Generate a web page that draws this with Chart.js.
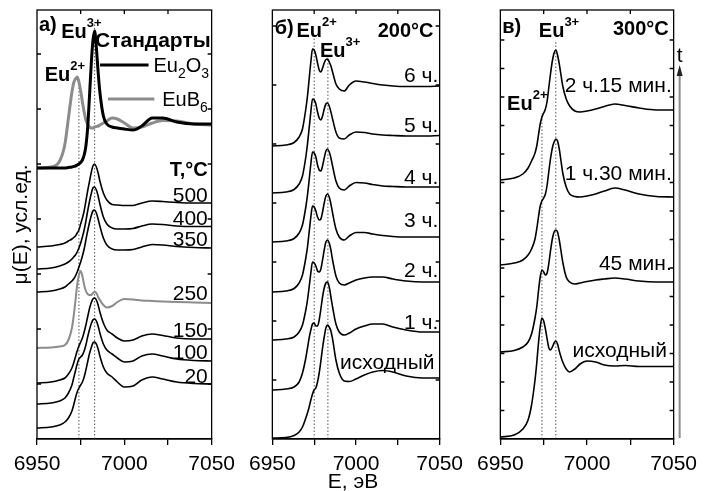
<!DOCTYPE html>
<html>
<head>
<meta charset="utf-8">
<script src="https://cdn.jsdelivr.net/npm/chart.js@4.4.1/dist/chart.umd.min.js"></script>
<style>
body { margin: 0; background: #fff; }
#wrap { position: relative; width: 704px; height: 491px; }
canvas { position: absolute; top: 0; }
</style>
</head>
<body>
<div id="wrap">
  <canvas id="chartA" width="242" height="491" style="left:0px"></canvas>
  <canvas id="chartB" width="228" height="491" style="left:242px"></canvas>
  <canvas id="chartC" width="234" height="491" style="left:470px"></canvas>
</div>
<script>
// photon energy, eV (shared grid for all spectra)
const energy = [6950, 6958, 6963, 6966, 6968, 6970, 6971, 6972, 6973, 6974, 6975, 6976, 6977, 6978, 6979, 6980, 6981, 6982, 6983, 6984, 6985, 6986, 6988, 6990, 6993, 6996, 7000, 7005, 7010, 7016, 7022, 7030, 7040, 7050];

// panel a) standards and annealing temperatures (mu above pre-edge, arb. units)
const eu2o3 = [0, 0, 0, 0, 0.5, 1, 1.5, 2, 3, 4, 5.5, 8, 13, 22, 40, 70, 102, 127, 137, 120, 96, 76, 52, 44, 41, 40, 39, 38, 42, 50, 50, 46, 44, 44];
const eub6  = [0, 1, 7, 24, 50, 76, 85, 89, 91, 86, 77, 66, 56, 48, 44, 41, 40, 40, 41, 41.5, 42, 43, 45, 47, 50, 49, 45, 40, 41, 45, 47.5, 47, 44, 43];
const t500 = [0, 1, 2.5, 4, 6, 8, 9.5, 11, 14, 17, 23, 29, 36, 46, 56, 65, 74, 81, 83, 80, 74, 66, 54, 47, 42.5, 42, 41.5, 41.5, 44, 46, 45.5, 44.5, 44, 44];
const t400 = [0, 1, 3, 5, 7, 10, 12, 14, 17, 21, 26, 32, 39, 48, 58, 67, 75, 81, 82, 79, 73, 65, 52, 45, 41, 40, 40, 40.5, 43, 45, 44.5, 43, 42.5, 42.5];
const t350 = [0, 1, 3, 5, 8, 11, 13, 16, 20, 25, 30, 36, 43, 52, 61, 69, 76, 81, 82, 79, 73, 66, 54, 47, 43, 42, 42, 42.5, 45, 47.5, 47, 45.5, 44.5, 44];
const t250 = [0, 0.5, 1.5, 3, 8, 20, 32, 47, 63, 73, 77, 72, 63, 57, 54, 53, 53, 55, 56, 55, 51, 48, 43, 40.5, 42, 46, 49, 48.5, 47.5, 47, 46.5, 46, 45.5, 45];
const t150 = [0, 1, 3, 5, 9, 15, 20, 26, 32, 37, 41, 45, 51, 58, 66, 74, 80, 84, 85, 83, 78, 71, 60, 53, 49, 45, 42, 43, 47, 49, 47.5, 45, 44, 44];
const t100 = [0, 1, 3, 6, 11, 19, 26, 33, 40, 45, 47, 49, 53, 59, 67, 74, 80, 84, 85, 83, 78, 71, 60, 54, 50, 46, 42, 43, 48, 50, 48, 45, 43.5, 43];
const t20  = [0, 1, 3, 6, 10, 17, 23, 30, 36, 40, 43, 46, 51, 58, 66, 74, 80, 85, 86, 84, 79, 72, 61, 55, 51, 46, 41, 42, 48, 51, 49, 46, 44.5, 44];
const offsetsA = [271, 271, 192, 170, 147, 91, 56, 35, 11];

// panel б) 200 C, time series
const b6h = [0, 1, 3.5, 9, 17, 37, 50, 67, 84, 97, 96, 91, 83, 76, 74, 78, 83, 86.5, 87, 84, 80, 74, 62, 57, 55, 61, 65, 64, 62.5, 61, 60, 59.5, 59.5, 60];
const b5h = [0, 1, 3.5, 9, 17, 36, 49, 65, 81, 94, 93, 89, 81, 75, 73, 77, 84, 89, 90, 87, 81, 74, 61, 55, 54, 58, 61, 60.5, 59, 58, 57.5, 57, 57, 57.5];
const b4h = [0, 1, 3.5, 9, 17, 35, 47, 62, 78, 90, 89, 85, 77, 72, 71, 76, 84, 91, 93, 90, 84, 76, 61, 54, 52, 56, 59.5, 59, 57.5, 56, 55.5, 55, 55, 55];
const b3h = [0, 1, 3.5, 9, 17, 34, 45, 60, 75, 86, 85, 81, 75, 72, 73, 80, 89, 96, 98, 95, 88, 79, 63, 55, 52, 56, 59.5, 59.5, 58, 56.5, 55.5, 55, 55, 55];
const b2h = [0, 1, 3, 8, 15, 30, 40, 53, 67, 78, 77, 74, 69, 68, 71, 80, 90, 98, 100, 97, 90, 80, 64, 57, 55, 57, 60, 62, 63, 63, 61, 59, 58, 58];
const b1h = [0, 1, 3, 8, 17, 32, 42, 52, 60, 66, 67, 64, 64, 70, 81, 93, 102, 107, 108, 103, 93, 83, 66, 58, 55, 57, 61, 64, 66, 66, 63, 60, 58, 58];
const b0h = [0, 0.5, 2.5, 6, 11, 20, 25, 31, 38, 44, 48, 50, 56, 65, 77, 90, 101, 110, 113, 111, 107, 99, 78, 65, 57, 56.5, 59, 63, 66, 67.5, 66, 62, 60, 60];
const offsetsB = [293, 246, 197, 147, 99, 49, 1];

// panel в) 300 C, time series
const c135 = [0, 2, 6, 12, 19, 27, 34, 45, 56, 63, 67, 71, 79, 93, 107, 119, 127, 130, 125, 116, 105, 94, 81, 74, 69, 68, 69, 71, 73.5, 76, 74.5, 72, 70, 70];
const c90  = [0, 2, 5, 10, 16, 26, 36, 48, 59, 64, 67, 71, 80, 94, 107, 117, 123, 126, 124, 116, 104, 92, 78, 71, 68.5, 68, 69, 71, 74, 77, 75, 71, 68.5, 68];
const c45  = [0, 1.5, 5, 10, 18, 34, 45, 61, 75, 82, 80, 77, 79, 89, 102, 113, 120, 122, 120, 112, 101, 90, 75, 70, 68, 69, 70.5, 72, 73, 74, 73, 71, 70, 70];
const c0   = [0, 2, 8, 17, 32, 57, 74, 94, 110, 119, 116, 108, 98, 89, 87, 90, 94, 96, 93, 86, 80, 75, 68, 65, 68, 73, 76, 75, 72, 71, 71.5, 70.5, 70.5, 70.5];
const offsetsC = [259, 174, 87, 2];

// Eu2+ / Eu3+ guide lines: energy and top of each dotted line
const guidesA = [[6974, 356], [6983, 417]];
const guidesB = [[6975, 402], [6983.2, 382]];
const guidesC = [[6974, 326], [6982, 399]];

const FONT = '"Liberation Sans", Arial, sans-serif';
const GRAY = '#8c8c8c';

const N = t => [t, 21, false, 0];
const L = t => [t, 20, false, 0];
const B = t => [t, 20, true, 0];
const SUP = t => [t, 13, true, -11];
const SUB = t => [t, 14, false, 6];

function drawRich(ctx, parts, x, y, align) {
    let w = 0;
    parts.forEach(p => {
        ctx.font = (p[2] ? 'bold ' : '') + p[1] + 'px ' + FONT;
        p.w = ctx.measureText(p[0]).width;
        w += p.w;
    });
    let cx = align === 'right' ? x - w : x;
    parts.forEach(p => {
        ctx.font = (p[2] ? 'bold ' : '') + p[1] + 'px ' + FONT;
        ctx.fillText(p[0], cx, y + p[3]);
        cx += p.w;
    });
}

const deco = {
    id: 'deco',
    afterDatasetsDraw(chart, args, o) {
        const ctx = chart.ctx;
        const a = chart.chartArea;
        const x = chart.scales.x, y = chart.scales.y;
        ctx.save();
        // frame + inward ticks
        ctx.strokeStyle = '#000';
        ctx.lineWidth = 1.3;
        ctx.strokeRect(a.left, a.top, a.right - a.left, a.bottom - a.top);
        ctx.beginPath();
        [6975, 7000, 7025].forEach(v => {
            const px = x.getPixelForValue(v);
            ctx.moveTo(px, a.top); ctx.lineTo(px, a.top + 4);
        });
        for (let v = o.yStep; v < 425; v += o.yStep) {
            const py = y.getPixelForValue(v);
            ctx.moveTo(a.left, py); ctx.lineTo(a.left + 4, py);
            ctx.moveTo(a.right, py); ctx.lineTo(a.right - 4, py);
        }
        ctx.stroke();

        // legend samples
        (o.keys || []).forEach(k => {
            ctx.strokeStyle = k.color;
            ctx.lineWidth = 3;
            ctx.beginPath();
            ctx.moveTo(x.getPixelForValue(k.x0), y.getPixelForValue(k.y));
            ctx.lineTo(x.getPixelForValue(k.x1), y.getPixelForValue(k.y));
            ctx.stroke();
        });

        ctx.fillStyle = '#000';
        ctx.textBaseline = 'alphabetic';
        o.labels.forEach(l => drawRich(ctx, l.p, x.getPixelForValue(l.x), y.getPixelForValue(l.y), l.al));

        // axis titles
        ctx.font = '21px ' + FONT;
        ctx.textAlign = 'center';
        if (o.yTitle) {
            ctx.save();
            ctx.translate(20, (a.top + a.bottom) / 2);
            ctx.rotate(-Math.PI / 2);
            ctx.fillText(o.yTitle, 0, 7);
            ctx.restore();
        }
        if (o.xTitle) {
            ctx.fillText(o.xTitle, (a.left + a.right) / 2 - 3, 488);
        }

        // time arrow
        if (o.arrow) {
            const ax = a.right + 6;
            ctx.strokeStyle = GRAY;
            ctx.lineWidth = 2;
            ctx.beginPath();
            ctx.moveTo(ax, a.bottom - 1); ctx.lineTo(ax, a.top + 64);
            ctx.stroke();
            ctx.fillStyle = '#222';
            ctx.beginPath();
            ctx.moveTo(ax, a.top + 55); ctx.lineTo(ax - 3, a.top + 66); ctx.lineTo(ax + 3, a.top + 66);
            ctx.closePath(); ctx.fill();
            ctx.fillStyle = '#000';
            ctx.fillText('t', ax, a.top + 52);
        }
        ctx.restore();
    }
};

function curve(vals, off, color, width) {
    return {
        data: energy.map((e, i) => ({ x: e, y: vals[i] + off })),
        borderColor: color,
        borderWidth: width,
        pointRadius: 0,
        fill: false,
        cubicInterpolationMode: 'monotone'
    };
}

function guide(g) {
    return {
        data: [{ x: g[0], y: 0 }, { x: g[0], y: g[1] }],
        borderColor: '#555',
        borderWidth: 1,
        borderDash: [1.5, 2],
        pointRadius: 0,
        tension: 0
    };
}

function makeChart(id, datasets, padL, padR, deco_opts) {
    return new Chart(document.getElementById(id).getContext('2d'), {
        type: 'line',
        data: { datasets: datasets },
        options: {
            responsive: false,
            animation: false,
            devicePixelRatio: 1,
            layout: { padding: { left: padL, right: padR, top: 10, bottom: 0 } },
            plugins: {
                legend: { display: false },
                tooltip: { enabled: false },
                deco: deco_opts
            },
            scales: {
                x: {
                    type: 'linear',
                    min: 6950,
                    max: 7050,
                    afterFit: s => { s.height = 52; },
                    ticks: {
                        stepSize: 25,
                        autoSkip: false,
                        maxRotation: 0,
                        padding: 7,
                        color: '#000',
                        font: { family: FONT, size: 21 },
                        callback: v => (v % 50 === 0 ? String(v) : '')
                    },
                    grid: { drawOnChartArea: false, tickLength: 6, color: '#000', lineWidth: 1.3 },
                    border: { color: '#000', width: 1.3 }
                },
                y: { display: false, min: 0, max: 429 }
            }
        },
        plugins: [deco]
    });
}

// panel a
const seriesA = [eu2o3, eub6, t500, t400, t350, t250, t150, t100, t20];
const colorsA = ['#000', GRAY, '#000', '#000', '#000', GRAY, '#000', '#000', '#000'];
const dsA = seriesA.map((s, i) => curve(s, offsetsA[i], colorsA[i], i < 2 ? 3 : (i === 5 ? 2 : 1.6)));
guidesA.forEach(g => dsA.push(guide(g)));
makeChart('chartA', dsA, 37, 25, {
    yStep: 55,
    yTitle: 'μ(E), усл.ед.',
    keys: [
        { x0: 6986.1, x1: 7013.9, y: 374, color: '#000' },
        { x0: 6990.6, x1: 7017.2, y: 340, color: GRAY }
    ],
    labels: [
        { p: [B('а)')], x: 6951.1, y: 408 },
        { p: [B('Eu'), SUP('3+')], x: 6963.9, y: 401 },
        { p: [['Стандарты', 21, true, 0]], x: 7049.4, y: 392, al: 'right' },
        { p: [L('Eu'), SUB('2'), L('O'), SUB('3')], x: 7016.7, y: 367 },
        { p: [L('EuB'), SUB('6')], x: 7021.7, y: 333 },
        { p: [B('Eu'), SUP('2+')], x: 6954.4, y: 358 },
        { p: [B('T,°C')], x: 7047.8, y: 263, al: 'right' },
        { p: [N('500')], x: 7047.8, y: 237, al: 'right' },
        { p: [N('400')], x: 7047.8, y: 214, al: 'right' },
        { p: [N('350')], x: 7047.8, y: 193, al: 'right' },
        { p: [N('250')], x: 7047.8, y: 139, al: 'right' },
        { p: [N('150')], x: 7047.8, y: 102, al: 'right' },
        { p: [N('100')], x: 7047.8, y: 80, al: 'right' },
        { p: [N('20')], x: 7047.8, y: 56, al: 'right' }
    ]
});

// panel б
const seriesB = [b6h, b5h, b4h, b3h, b2h, b1h, b0h];
const dsB = seriesB.map((s, i) => curve(s, offsetsB[i], '#000', 1.6));
guidesB.forEach(g => dsB.push(guide(g)));
makeChart('chartB', dsB, 25.5, 25.5, {
    yStep: 59,
    xTitle: 'E, эВ',
    labels: [
        { p: [B('б)')], x: 6951.4, y: 405 },
        { p: [B('Eu'), SUP('2+')], x: 6964.4, y: 402 },
        { p: [B('Eu'), SUP('3+')], x: 6978.5, y: 382 },
        { p: [B('200°C')], x: 7046.3, y: 402, al: 'right' },
        { p: [N('6 ч.')], x: 7049.2, y: 357, al: 'right' },
        { p: [N('5 ч.')], x: 7049.2, y: 307, al: 'right' },
        { p: [N('4 ч.')], x: 7049.2, y: 255, al: 'right' },
        { p: [N('3 ч.')], x: 7049.2, y: 212, al: 'right' },
        { p: [N('2 ч.')], x: 7049.2, y: 162, al: 'right' },
        { p: [N('1 ч.')], x: 7049.2, y: 110, al: 'right' },
        { p: [N('исходный')], x: 7046.9, y: 70, al: 'right' }
    ]
});

// panel в
const seriesC = [c135, c90, c45, c0];
const dsC = seriesC.map((s, i) => curve(s, offsetsC[i], '#000', 1.6));
guidesC.forEach(g => dsC.push(guide(g)));
makeChart('chartC', dsC, 25, 29, {
    yStep: 28.5,
    arrow: true,
    labels: [
        { p: [B('в)')], x: 6951.1, y: 406 },
        { p: [B('Eu'), SUP('3+')], x: 6972.2, y: 402 },
        { p: [B('300°C')], x: 7047.2, y: 404, al: 'right' },
        { p: [B('Eu'), SUP('2+')], x: 6953.9, y: 329 },
        { p: [N('2 ч.15 мин.')], x: 7048.9, y: 347, al: 'right' },
        { p: [N('1 ч.30 мин.')], x: 7048.9, y: 259, al: 'right' },
        { p: [N('45 мин.')], x: 7048.9, y: 169, al: 'right' },
        { p: [N('исходный')], x: 7046.1, y: 82, al: 'right' }
    ]
});
</script>
</body>
</html>
